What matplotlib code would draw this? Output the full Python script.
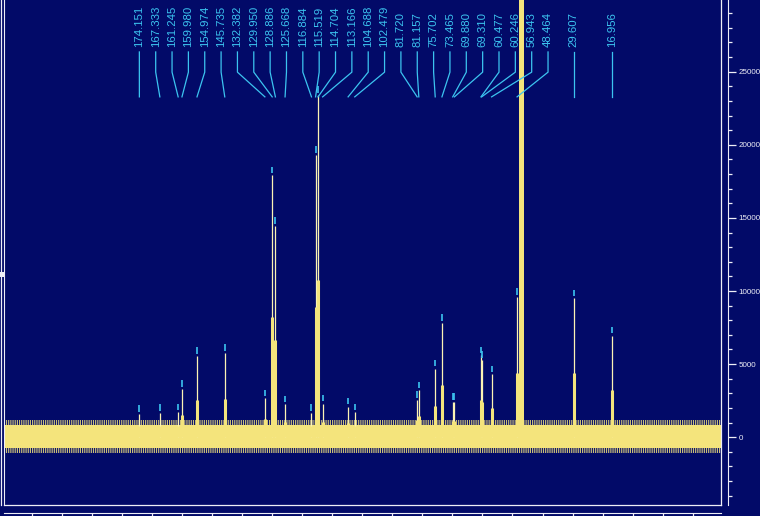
import matplotlib
matplotlib.use("Agg")
import matplotlib.pyplot as plt
import matplotlib.transforms as mtransforms
from matplotlib.lines import Line2D
from matplotlib.patches import Rectangle
from matplotlib.ticker import MultipleLocator
import numpy as np

# 13C peak list: shift (ppm) and peak height
peak_ppm = [174.151, 167.333, 161.245, 159.980, 154.974, 145.735,
            132.382, 129.950, 128.886, 125.668, 116.884, 115.519,
            114.704, 113.166, 104.688, 102.479, 81.720, 81.157,
            75.702, 73.465, 69.880, 69.310, 60.477, 60.246,
            56.943, 48.464, 29.607, 16.956]
peak_height = [1600, 1650, 1700, 3300, 5550, 5750,
               2650, 17900, 14450, 2250, 1650, 19300,
               23400, 2300, 2100, 1700, 2550, 3200,
               4700, 7800, 2400, 2400, 5600, 5300,
               4300, 9600, 9500, 6950]

# solvent multiplet, runs off the top of the plot
solvent_ppm = [46.3, 47.9]
solvent_height = 40000

# baseline noise envelope (intensity units)
noise_core = [-750, 820]
noise_fringe = [-1100, 1150]

x_range = [219.2, -19.4]
y_range = [-4600, 29900]

BG = "#020a68"
YELLOW = "#f4e47c"
PALE = "#fbf3b4"
CYAN = "#3cc4f0"
FRAME = "#eeeef6"
LABEL_GAP = 5.44   # ppm between neighbouring peak labels
LABEL_BIAS = 2.5   # groups of labels sit a little upfield of their peaks

plt.rcParams["hatch.linewidth"] = 0.6


def spread_labels(pos, gap, bias):
    # merge overlapping label groups and centre each group on its peaks
    groups = [[p] for p in pos]
    merged = True
    while merged:
        merged = False
        out = [groups[0]]
        for g in groups[1:]:
            prev = out[-1]
            end_prev = np.mean(prev) + gap * (len(prev) - 1) / 2
            start_g = np.mean(g) - gap * (len(g) - 1) / 2
            if start_g - end_prev < gap:
                out[-1] = prev + g
                merged = True
            else:
                out.append(g)
        groups = out
    res = []
    for g in groups:
        c = np.mean(g) + (bias if len(g) > 1 else 0)
        res += [c + gap * (i - (len(g) - 1) / 2) for i in range(len(g))]
    return res


W, H = 760, 516
fig = plt.figure(figsize=(W / 100, H / 100), dpi=100, facecolor=BG)
ax = fig.add_axes([4 / W, (H - 504.5) / H, 717 / W, 504.5 / H])
ax.set_facecolor(BG)
ax.set_xlim(*x_range)
ax.set_ylim(*y_range)

# baseline noise band: solid core with a ragged (hatched) fringe
xs = list(x_range)
ax.fill_between(xs, noise_fringe[0], noise_fringe[1], facecolor="none",
                edgecolor=YELLOW, hatch="|||||||||", lw=0)
ax.fill_between(xs, noise_core[0], noise_core[1], color=YELLOW, lw=0)

# solvent
ax.fill_between(solvent_ppm, 0, solvent_height, color=YELLOW, lw=0)

# peaks: thin tip, broader foot, cyan pick marker above
h = np.array(peak_height)
ax.vlines(peak_ppm, 0, h, color=PALE, lw=0.9)
ax.vlines(peak_ppm, 0, 0.46 * h, color=YELLOW, lw=2.2)
ax.vlines(peak_ppm, h + 150, h + 600, color=CYAN, lw=1.2, zorder=4)

# labels with leader lines
trans = mtransforms.blended_transform_factory(ax.transData, ax.transAxes)
lab_x = [-p for p in spread_labels([-p for p in peak_ppm], LABEL_GAP, LABEL_BIAS)]
for p, lx in zip(peak_ppm, lab_x):
    ax.text(lx, 0.907, f"{p:.3f}", transform=trans, rotation=90,
            ha="center", va="bottom", color=CYAN, fontsize=8.2,
            family="Liberation Sans", zorder=5)
    ax.plot([lx, lx, p], [0.897, 0.857, 0.808], transform=trans,
            color=CYAN, lw=0.9, clip_on=False, zorder=5)

# axes
ax.spines["top"].set_visible(False)
for s in ["left", "right", "bottom"]:
    ax.spines[s].set_color(FRAME)
ax.spines["right"].set_position(("outward", 5))
ax.spines["bottom"].set_position(("outward", 6))
ax.yaxis.tick_right()
ax.yaxis.set_major_locator(MultipleLocator(5000))
ax.yaxis.set_minor_locator(MultipleLocator(1000))
ax.xaxis.set_major_locator(MultipleLocator(10))
ax.tick_params(axis="y", which="major", length=5.8, width=0.9, color=FRAME,
               labelcolor=FRAME, labelsize=5.8, pad=2)
ax.tick_params(axis="y", which="minor", length=2.9, width=0.9, color=FRAME)
ax.tick_params(axis="x", which="major", length=6, width=0.9, color=FRAME,
               labelbottom=False)
for lab in ax.get_yticklabels():
    lab.set_family("Liberation Sans")

# inner frame lines
ax.plot([1, 1], [0, 1], transform=ax.transAxes, color=FRAME, lw=0.9, clip_on=False)
ax.plot([0, 1], [0, 0], transform=ax.transAxes, color=FRAME, lw=0.9, clip_on=False)
fig.add_artist(Line2D([1.2 / W, 1.2 / W], [(H - 505) / H, 1], color=FRAME, lw=0.9))
fig.add_artist(Rectangle((0, (H - 277) / H), 4 / W, 5 / H, color=FRAME, lw=0))

fig.savefig("out.png", dpi=100, facecolor=BG)
